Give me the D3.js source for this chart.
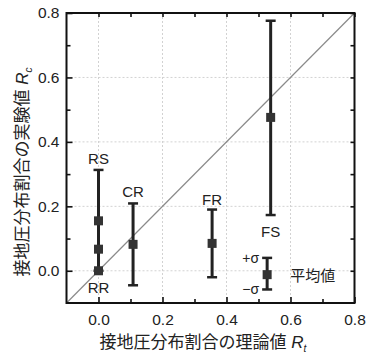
<!DOCTYPE html>
<html>
<head>
<meta charset="utf-8">
<script src="https://cdn.jsdelivr.net/npm/d3@7"></script>
<style>
body { margin:0; background:#fff; }
text { font-family: "Liberation Sans", Arial, "Noto Sans CJK JP", sans-serif; fill:#222; }
.jp { font-family: "Liberation Sans", "Noto Sans CJK JP", sans-serif; }
</style>
</head>
<body>
<svg width="368" height="360"></svg>
<script>
// data
var labels = ["RS", "", "RR", "CR", "FR", "FS"];
var theory = [0.0, 0.0, 0.0, 0.108, 0.355, 0.538];
var meanVal = [0.155, 0.067, 0.0, 0.082, 0.085, 0.476];
var upper = [0.313, null, null, 0.209, 0.19, 0.776];
var lower = [0.0, null, null, -0.045, -0.02, 0.173];
// key marker (mean, +sigma, -sigma)
var keyX = 0.527, keyMean = -0.012, keyHi = 0.04, keyLo = -0.058;
var xTicks = [0.0, 0.2, 0.4, 0.6, 0.8];
var yTicks = [0.0, 0.2, 0.4, 0.6, 0.8];
var minorTicks = [0.1, 0.3, 0.5, 0.7];

var svg = d3.select("svg");
var x = d3.scaleLinear().domain([-0.1, 0.8]).range([66.5, 354.5]);
var y = d3.scaleLinear().domain([-0.1, 0.8]).range([303, 13]);

// grid
var grid = svg.append("g");
[0.0, 0.2, 0.4, 0.6].forEach(function(v){
	grid.append("line").attr("x1", x(v)).attr("x2", x(v)).attr("y1", y(-0.1)).attr("y2", y(0.8))
		.style("stroke", "#d2d2d2").style("stroke-dasharray", "2,2").style("stroke-width", 1);
	grid.append("line").attr("y1", y(v)).attr("y2", y(v)).attr("x1", x(-0.1)).attr("x2", x(0.8))
		.style("stroke", "#d2d2d2").style("stroke-dasharray", "2,2").style("stroke-width", 1);
});

// 1:1 line
svg.append("line")
	.attr("x1", x(-0.1)).attr("y1", y(-0.1)).attr("x2", x(0.8)).attr("y2", y(0.8))
	.style("stroke", "#8a8a8a").style("stroke-width", 1.2);

// axes, ticks drawn inward on all four sides
function tickAxis(axisFn, scale, tr, len){
	var g = svg.append("g").attr("transform", tr)
		.call(axisFn(scale).tickValues(len.vals).tickSize(-len.size).tickFormat(len.fmt ? d3.format(".1f") : ""));
	g.select(".domain").remove();
	g.selectAll("line").style("stroke", "#111").style("stroke-width", 1.6);
	g.selectAll("text").style("font-size", "15.5px").style("fill", "#222");
	return g;
}
var bx = tickAxis(d3.axisBottom, x, "translate(0," + y(-0.1) + ")", {vals: xTicks, size: 6, fmt: true});
bx.selectAll("text").attr("dy", "1.05em").attr("y", 6);
tickAxis(d3.axisBottom, x, "translate(0," + y(-0.1) + ")", {vals: minorTicks, size: 4});
var ly = tickAxis(d3.axisLeft, y, "translate(" + x(-0.1) + ",0)", {vals: yTicks, size: 6, fmt: true});
ly.selectAll("text").attr("x", -7);
tickAxis(d3.axisLeft, y, "translate(" + x(-0.1) + ",0)", {vals: minorTicks, size: 4});
tickAxis(d3.axisTop, x, "translate(0," + y(0.8) + ")", {vals: xTicks.concat(minorTicks), size: 4});
tickAxis(d3.axisRight, y, "translate(" + x(0.8) + ",0)", {vals: yTicks.concat(minorTicks), size: 4});

svg.append("rect")
	.attr("x", x(-0.1)).attr("y", y(0.8))
	.attr("width", x(0.8) - x(-0.1)).attr("height", y(-0.1) - y(0.8))
	.style("fill", "none").style("stroke", "#111").style("stroke-width", 2);

// error bars
function errBar(cx, lo, hi){
	svg.append("line").attr("x1", x(cx)).attr("x2", x(cx)).attr("y1", y(lo)).attr("y2", y(hi))
		.style("stroke", "#222").style("stroke-width", 3);
	[lo, hi].forEach(function(v){
		svg.append("line").attr("x1", x(cx) - 5).attr("x2", x(cx) + 5).attr("y1", y(v)).attr("y2", y(v))
			.style("stroke", "#222").style("stroke-width", 2.5);
	});
}
function marker(cx, v){
	svg.append("rect").attr("x", x(cx) - 4.5).attr("y", y(v) - 4.5).attr("width", 9).attr("height", 9)
		.style("fill", "#333");
}
for(var i=0; i<theory.length; i++){
	if(upper[i] != null) errBar(theory[i], lower[i], upper[i]);
}
for(var i=0; i<theory.length; i++){
	marker(theory[i], meanVal[i]);
}

// point labels
var lab = [
	{t: "RS", cx: 0.0, cy: 0.33},
	{t: "RR", cx: 0.0, cy: -0.068},
	{t: "CR", cx: 0.108, cy: 0.23},
	{t: "FR", cx: 0.355, cy: 0.205},
	{t: "FS", cx: 0.538, cy: 0.105}
];
lab.forEach(function(d){
	svg.append("text").attr("x", x(d.cx)).attr("y", y(d.cy)).attr("text-anchor", "middle")
		.style("font-size", "15px").text(d.t);
});

// key
errBar(keyX, keyLo, keyHi);
marker(keyX, keyMean);
svg.append("text").attr("x", x(keyX) - 8).attr("y", y(keyHi) + 5).attr("text-anchor", "end")
	.style("font-size", "14px").text("+σ");
svg.append("text").attr("x", x(keyX) - 8).attr("y", y(keyLo) + 5).attr("text-anchor", "end")
	.style("font-size", "14px").text("−σ");
svg.append("text").attr("x", x(keyX) + 23).attr("y", y(keyMean) + 6).attr("class", "jp")
	.style("font-size", "15px").text("平均値");

// axis titles
var xt = svg.append("text").attr("x", 203).attr("y", 348).attr("text-anchor", "middle")
	.attr("class", "jp").style("font-size", "17px");
xt.append("tspan").text("接地圧分布割合の理論値 ");
xt.append("tspan").style("font-style", "italic").text("R");
xt.append("tspan").attr("dy", 4).style("font-size", "10px").style("font-style", "italic").text("t");

var yt = svg.append("text").attr("transform", "translate(28," + 172 + ") rotate(-90)")
	.attr("text-anchor", "middle").attr("class", "jp").style("font-size", "17px");
yt.append("tspan").text("接地圧分布割合の実験値 ");
yt.append("tspan").style("font-style", "italic").text("R");
yt.append("tspan").attr("dy", 4).style("font-size", "10px").style("font-style", "italic").text("c");
</script>
</body>
</html>
